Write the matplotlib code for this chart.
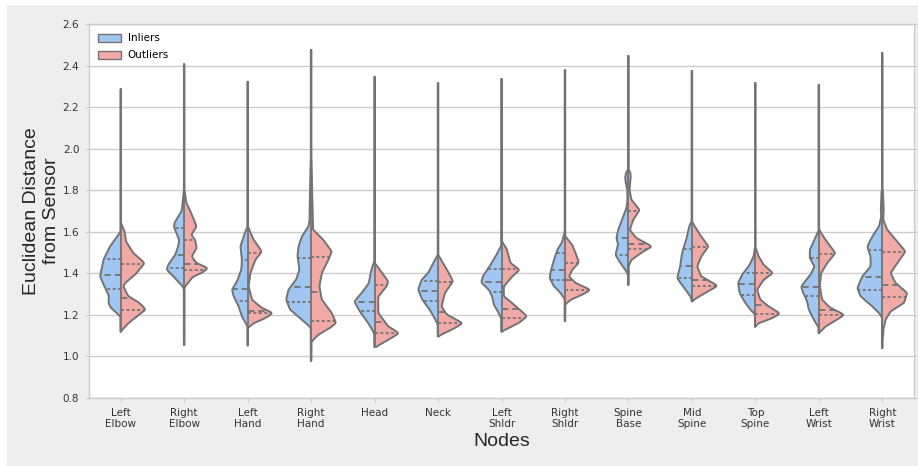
import numpy as np
import matplotlib
matplotlib.use("Agg")
import matplotlib.pyplot as plt
from matplotlib.patches import Patch, Rectangle

# categories
nodes = ["Left\nElbow", "Right\nElbow", "Left\nHand", "Right\nHand", "Head", "Neck",
         "Left\nShldr", "Right\nShldr", "Spine\nBase", "Mid\nSpine", "Top\nSpine",
         "Left\nWrist", "Right\nWrist"]

# long thin tails (min / max of each node)
tail_top = [2.286, 2.406, 2.322, 2.475, 2.345, 2.316, 2.335, 2.378, 2.446, 2.373, 2.316, 2.306, 2.46]
tail_bottom = [1.12, 1.056, 1.053, 0.98, 1.045, 1.096, 1.12, 1.17, 1.345, 1.265, 1.144, 1.112, 1.04]

# density profiles: (distance, relative density)
inlier_profile = [
    [(1.60, 0.5), (1.585, 2.3), (1.53, 10.7), (1.465, 17.3), (1.385, 20.7), (1.33, 15.7), (1.29, 11.7),
     (1.257, 12.3), (1.233, 9.7), (1.20, 2), (1.19, 0)],
    [(1.80, 0.5), (1.74, 1.5), (1.70, 2.5), (1.641, 10), (1.617, 10), (1.585, 7), (1.561, 5), (1.53, 6),
     (1.489, 9), (1.441, 16), (1.417, 17.5), (1.385, 10.8), (1.337, 1.5), (1.32, 0)],
    [(1.625, 0), (1.617, 1), (1.577, 4), (1.529, 7.3), (1.465, 5.7), (1.417, 6.3), (1.361, 10.7),
     (1.321, 15.7), (1.289, 14), (1.241, 9), (1.192, 5.7), (1.144, 0)],
    [(1.95, 0.5), (1.80, 1), (1.70, 1.5), (1.657, 1.5), (1.625, 2.7), (1.601, 6), (1.577, 9.3),
     (1.529, 12.7), (1.481, 13.7), (1.417, 11.7), (1.369, 15), (1.321, 22.7), (1.273, 25), (1.225, 21),
     (1.177, 9.3), (1.145, 1.7), (1.13, 0)],
    [(1.46, 0), (1.433, 2.3), (1.40, 4), (1.353, 5.7), (1.305, 13), (1.264, 20.3), (1.216, 14.7),
     (1.16, 6.3), (1.12, 1.3), (1.10, 0)],
    [(1.49, 0), (1.449, 4.9), (1.401, 9.9), (1.369, 16.5), (1.321, 19.9), (1.274, 15.9), (1.224, 8.2),
     (1.176, 2.5), (1.15, 0)],
    [(1.54, 0), (1.529, 0.7), (1.481, 6), (1.433, 12), (1.385, 18.7), (1.356, 20.3), (1.321, 12.7),
     (1.289, 9.3), (1.249, 7.7), (1.209, 2.7), (1.177, 0)],
    [(1.60, 0), (1.593, 0.5), (1.545, 3.3), (1.513, 7.7), (1.465, 11), (1.409, 14.3), (1.377, 15.3),
     (1.337, 11), (1.305, 4.3), (1.273, 0)],
    [(1.90, 0), (1.885, 2.5), (1.858, 3.3), (1.83, 2.5), (1.801, 1), (1.75, 1), (1.713, 2), (1.665, 6),
     (1.609, 10.3), (1.569, 12), (1.537, 10.3), (1.489, 13), (1.449, 8), (1.409, 2), (1.385, 0)],
    [(1.65, 0), (1.633, 2.3), (1.561, 5.7), (1.513, 9), (1.473, 10.7), (1.425, 12), (1.377, 14.7),
     (1.337, 9), (1.288, 1.3), (1.265, 0)],
    [(1.53, 0), (1.521, 0.5), (1.481, 1.7), (1.433, 6.7), (1.393, 13.3), (1.353, 17.3), (1.305, 15.7),
     (1.265, 11), (1.225, 5), (1.201, 0)],
    [(1.61, 0), (1.601, 0.5), (1.561, 4.3), (1.513, 9), (1.473, 9), (1.433, 4.3), (1.393, 8.3),
     (1.337, 17.7), (1.305, 15.7), (1.265, 11.7), (1.225, 10), (1.177, 5), (1.137, 0)],
    [(1.80, 0.7), (1.70, 1.5), (1.673, 1), (1.625, 3.3), (1.577, 10), (1.529, 15), (1.481, 11.7),
     (1.433, 11.7), (1.385, 20), (1.329, 25), (1.289, 21.7), (1.241, 10), (1.209, 3.3), (1.185, 0)],
]

outlier_profile = [
    [(1.64, 0.5), (1.60, 4), (1.553, 5.3), (1.497, 12.7), (1.449, 24), (1.393, 14.3), (1.353, 4.3),
     (1.337, 2.5), (1.289, 7.7), (1.257, 19), (1.225, 25), (1.192, 16), (1.16, 7.7), (1.12, 0)],
    [(1.80, 0.5), (1.74, 2), (1.69, 7), (1.625, 12.5), (1.585, 7), (1.561, 11), (1.521, 12.5),
     (1.481, 7.5), (1.45, 12), (1.425, 24), (1.40, 17), (1.385, 9), (1.337, 1), (1.32, 0)],
    [(1.625, 0), (1.617, 1), (1.561, 6), (1.505, 14.3), (1.465, 7.7), (1.401, 2.7), (1.337, 1),
     (1.273, 4.3), (1.233, 14.3), (1.209, 25.3), (1.184, 17.7), (1.16, 6), (1.136, 0)],
    [(1.95, 0.5), (1.80, 1), (1.70, 1.5), (1.609, 2), (1.561, 12.3), (1.505, 20.7), (1.465, 17.3),
     (1.401, 10.7), (1.337, 8.3), (1.273, 10.7), (1.209, 20.7), (1.161, 25), (1.137, 19), (1.105, 7.3),
     (1.073, 0.7), (1.06, 0)],
    [(1.45, 0), (1.417, 5.3), (1.361, 13.7), (1.337, 12), (1.288, 3.7), (1.209, 3.7), (1.144, 13.7),
     (1.112, 24.7), (1.08, 13.7), (1.048, 2), (1.04, 0)],
    [(1.49, 0), (1.449, 5), (1.40, 11), (1.361, 15), (1.305, 6.8), (1.24, 3.5), (1.20, 9), (1.16, 25),
     (1.128, 13.5), (1.10, 1), (1.095, 0)],
    [(1.56, 0), (1.553, 0.5), (1.513, 5.7), (1.449, 9), (1.417, 18.3), (1.385, 10.7), (1.337, 2.3),
     (1.289, 2.3), (1.257, 10.7), (1.193, 25.7), (1.161, 17.3), (1.137, 7.3), (1.12, 0)],
    [(1.58, 0), (1.577, 0.5), (1.537, 7.3), (1.497, 10.7), (1.452, 14), (1.417, 7.3), (1.385, 4),
     (1.353, 10.7), (1.321, 25.7), (1.297, 17.3), (1.273, 5.7), (1.249, 0)],
    [(1.90, 0), (1.885, 2), (1.858, 2.3), (1.83, 1.5), (1.80, 1.2), (1.753, 3), (1.705, 11.3),
     (1.657, 4.7), (1.609, 1.3), (1.569, 8), (1.529, 24), (1.505, 14.7), (1.465, 3), (1.433, 0)],
    [(1.65, 0), (1.633, 2), (1.577, 9.3), (1.529, 16.7), (1.481, 9.3), (1.433, 5.3), (1.385, 9.3),
     (1.34, 26), (1.313, 16), (1.28, 4.3), (1.265, 0)],
    [(1.53, 0), (1.521, 0.5), (1.481, 3.3), (1.441, 8.3), (1.401, 17.7), (1.369, 8.3), (1.321, 1.7),
     (1.273, 5), (1.241, 13.3), (1.206, 25), (1.18, 15), (1.161, 3.3), (1.144, 0)],
    [(1.62, 0), (1.609, 0.5), (1.561, 6.7), (1.497, 16.7), (1.449, 8.3), (1.401, 2.3), (1.337, 1),
     (1.273, 3.3), (1.233, 11.7), (1.201, 25.7), (1.177, 18.3), (1.144, 6.7), (1.112, 0)],
    [(1.80, 0.7), (1.70, 1.5), (1.657, 1), (1.609, 5), (1.553, 15), (1.505, 23.3), (1.449, 15),
     (1.401, 8.3), (1.353, 13.3), (1.305, 25), (1.257, 21.7), (1.217, 8.3), (1.177, 3.3), (1.128, 1),
     (1.04, 0)],
]

# quartiles (q1, median, q3); None where no line is visible
inlier_quart = [(1.327, 1.39, 1.468), (1.426, 1.487, 1.62), (1.268, 1.327, 1.463), (1.261, 1.335, 1.473),
                (1.22, 1.264, None), (1.269, 1.317, 1.365), (1.309, 1.359, 1.421), (1.366, 1.414, 1.497),
                (1.489, 1.572, None), (1.377, 1.433, 1.516), (1.297, 1.35, 1.401), (1.289, 1.335, 1.473),
                (1.318, 1.382, 1.513)]
outlier_quart = [(1.223, 1.279, 1.445), (1.417, 1.446, 1.561), (1.207, 1.22, 1.50), (1.169, 1.308, 1.481),
                 (1.112, 1.165, 1.345), (1.163, 1.213, 1.36), (1.185, 1.228, 1.42), (1.321, 1.366, 1.452),
                 (1.516, 1.542, 1.70), (1.337, 1.37, 1.529), (1.204, 1.249, 1.401), (1.199, 1.223, 1.493),
                 (1.284, 1.345, 1.502)]

blue = "#a0c6f1"
red = "#f2aaa6"
gray = "#737373"
dens_scale = 1 / 63.5  # relative density -> category units
tail_w = 0.3


def half_profile(profile, lo, hi):
    pts = sorted(profile)
    v = np.array([p[0] for p in pts])
    d = np.array([p[1] for p in pts])
    y = np.arange(lo, hi + 0.001, 0.001)
    w = np.interp(y, v, d, left=0, right=0)
    # round off the corners between the read points
    k = np.arange(-25, 26) * 0.001
    kern = np.exp(-0.5 * (k / 0.005) ** 2)
    kern /= kern.sum()
    w = np.convolve(np.pad(w, 25, mode="edge"), kern, mode="valid")
    w = np.maximum(w, tail_w)
    return y, w * dens_scale


fig = plt.figure(figsize=(9.18, 4.66), dpi=100, facecolor="white")
fig.patches.append(Rectangle((7 / 918, 0), 911 / 918, 461 / 466, transform=fig.transFigure,
                             facecolor="#eeeeee", edgecolor="none", zorder=-5))
ax = fig.add_axes([89 / 918, 1 - 398 / 466, 825 / 918, 374 / 466])
ax.set_facecolor("white")

for i in range(len(nodes)):
    for side, prof, quart, col in [(-1, inlier_profile[i], inlier_quart[i], blue),
                                   (1, outlier_profile[i], outlier_quart[i], red)]:
        y, w = half_profile(prof, tail_bottom[i], tail_top[i])
        ax.fill_betweenx(y, i, i + side * w, facecolor=col, edgecolor="none", zorder=2)
        ax.plot(i + side * w, y, color=gray, lw=1.4, zorder=3, solid_capstyle="round")
        for j, q in enumerate(quart):
            if q is None:
                continue
            wq = np.interp(q, y, w)
            dash = (3.5, 2.2) if j == 1 else (1.6, 1.4)
            ax.plot([i, i + side * wq], [q, q], color=gray, lw=1.3, dashes=dash, zorder=3)
    ax.plot([i, i], [tail_bottom[i], tail_top[i]], color=gray, lw=1.3, zorder=3.5,
            solid_capstyle="round")

ax.set_xlim(-0.5, len(nodes) - 0.5)
ax.set_ylim(0.8, 2.6)
ax.set_yticks(np.arange(0.8, 2.61, 0.2))
ax.set_yticklabels([f"{t:.1f}" for t in np.arange(0.8, 2.61, 0.2)])
ax.set_xticks(range(len(nodes)))
ax.set_xticklabels(nodes)
ax.yaxis.grid(True, color="#cccccc", lw=1, zorder=0)
ax.set_axisbelow(True)
for s in ax.spines.values():
    s.set_color("#cccccc")
    s.set_linewidth(1)
ax.tick_params(axis="both", labelsize=7.5, labelcolor="#333333", color="#cccccc", length=3)
ax.tick_params(axis="y", right=True, pad=4)
ax.tick_params(axis="x", pad=4)
for lab in ax.get_xticklabels() + ax.get_yticklabels():
    lab.set_family("DejaVu Sans")

ax.set_ylabel("Euclidean Distance\nfrom Sensor", fontsize=14, family="Liberation Sans",
              color="#262626", labelpad=2)
ax.set_xlabel("Nodes", fontsize=14, family="Liberation Sans", color="#262626", labelpad=3)

handles = [Patch(facecolor=blue, edgecolor=gray, lw=1, label="Inliers"),
           Patch(facecolor=red, edgecolor=gray, lw=1, label="Outliers")]
ax.legend(handles=handles, loc="upper left", frameon=False, fontsize=7.5,
          handlelength=2.2, handleheight=0.8, labelspacing=0.65, handletextpad=0.6)

fig.savefig("out.png", dpi=100, facecolor=fig.get_facecolor())
